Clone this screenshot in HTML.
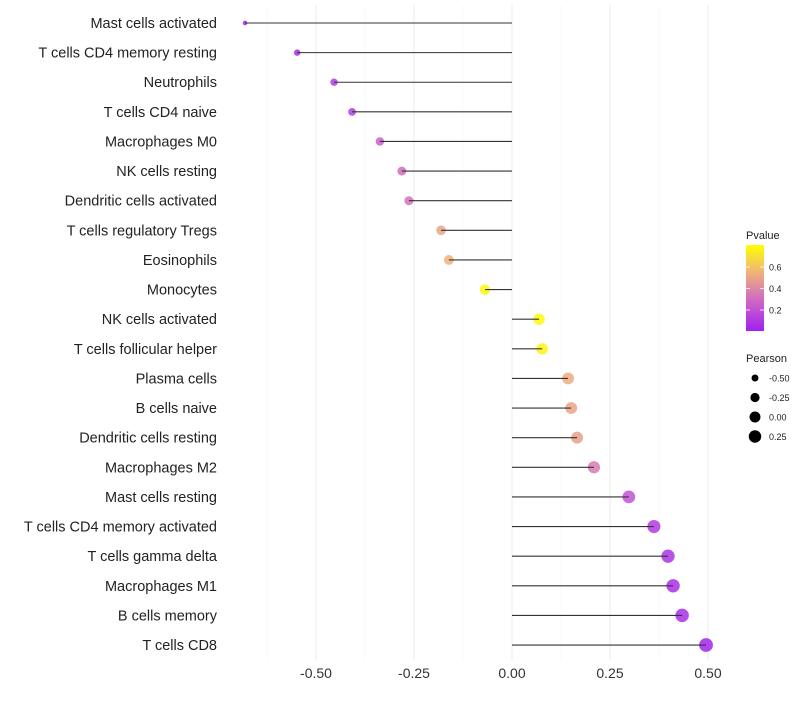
<!DOCTYPE html>
<html><head><meta charset="utf-8"><style>
body{margin:0;background:#fff;font-family:"Liberation Sans",sans-serif}
</style></head><body>
<svg id="chart" width="800" height="700" xmlns="http://www.w3.org/2000/svg"></svg>
<script>
const categories=["Mast cells activated","T cells CD4 memory resting","Neutrophils","T cells CD4 naive","Macrophages M0","NK cells resting","Dendritic cells activated","T cells regulatory  Tregs","Eosinophils","Monocytes","NK cells activated","T cells follicular helper","Plasma cells","B cells naive","Dendritic cells resting","Macrophages M2","Mast cells resting","T cells CD4 memory activated","T cells gamma delta","Macrophages M1","B cells memory","T cells CD8"];
const pearson=[-0.681,-0.548,-0.454,-0.408,-0.337,-0.281,-0.263,-0.181,-0.161,-0.069,0.069,0.077,0.143,0.151,0.166,0.209,0.298,0.362,0.398,0.411,0.434,0.495];
const pvalues=[0.02,0.05,0.1,0.12,0.25,0.3,0.32,0.5,0.55,0.78,0.78,0.76,0.52,0.5,0.48,0.35,0.2,0.1,0.08,0.06,0.05,0.02];
const xTicks=[-0.5,-0.25,0,0.25,0.5];
const xTickLabels=["-0.50","-0.25","0.00","0.25","0.50"];
const pTicks=[0.2,0.4,0.6];
const sizeBreaks=[-0.5,-0.25,0,0.25];
const sizeLabels=["-0.50","-0.25","0.00","0.25"];

const svg=document.getElementById('chart');
const NS="http://www.w3.org/2000/svg";
function mk(t,a,p){const e=document.createElementNS(NS,t);for(const k in a)e.setAttribute(k,a[k]);(p||svg).appendChild(e);return e;}
const x=v=>512+v*392;
const y=i=>23+i*29.62;
const r=v=>Math.sqrt(Math.max(2,30+36*v));
const stops=[[0,[160,32,240]],[0.27,[205,100,200]],[0.55,[240,180,120]],[0.8,[255,255,0]]];
function col(p){p=Math.max(0,Math.min(0.8,p));for(let i=1;i<stops.length;i++){if(p<=stops[i][0]){const a=stops[i-1],b=stops[i];const t=(p-a[0])/(b[0]-a[0]);const c=a[1].map((v,k)=>Math.round(v+(b[1][k]-v)*t));return `rgb(${c.join(',')})`;}}return 'rgb(255,255,0)';}

const g=mk('g',{});


for(let v=-0.625;v<=0.6;v+=0.125){
  const major=Math.abs(v*4-Math.round(v*4))<1e-6;
  mk('line',{x1:x(v),x2:x(v),y1:5,y2:660,stroke:major?'#ebebeb':'#f3f3f3','stroke-width':major?1:0.6},g);
}
xTicks.forEach((v,i)=>{
  const t=mk('text',{x:x(v),y:678,'text-anchor':'middle','font-size':14,fill:'#333'});
  t.textContent=xTickLabels[i];
  
  
});
categories.forEach((c,i)=>{
  const t=mk('text',{x:217,y:y(i)+5,'text-anchor':'end','font-size':14.5,fill:'#222'});
  t.textContent=c;
  
  
  const d=mk('circle',{cx:x(pearson[i]),cy:y(i),r:r(pearson[i]),fill:col(pvalues[i]),'fill-opacity':0.85});
  
  
  const s=mk('line',{x1:x(0),x2:x(pearson[i]),y1:y(i),y2:y(i),stroke:'#333','stroke-width':1.1});
  
  
});
const lg=mk('g',{});


const defs=mk('defs',{});
const grad=mk('linearGradient',{id:'pg',x1:0,y1:1,x2:0,y2:0},defs);
stops.forEach(s=>mk('stop',{offset:s[0]/0.8,'stop-color':`rgb(${s[1].join(',')})`},grad));
mk('text',{x:746,y:239,'font-size':11,fill:'#222'},lg).textContent='Pvalue';
mk('rect',{x:746,y:245,width:18,height:86,fill:'url(#pg)'},lg);
const py=p=>331.5-p*107.5;
pTicks.forEach(p=>{
  mk('line',{x1:746,x2:750,y1:py(p),y2:py(p),stroke:'#fff','stroke-width':0.8},lg);
  mk('line',{x1:760,x2:764,y1:py(p),y2:py(p),stroke:'#fff','stroke-width':0.8},lg);
  mk('text',{x:769,y:py(p)+3.5,'font-size':9,fill:'#222'},lg).textContent=p.toFixed(1);
});
const sg=mk('g',{});


mk('text',{x:746,y:362,'font-size':11,fill:'#222'},sg).textContent='Pearson';
sizeBreaks.forEach((v,i)=>{
  const cy=378+i*19.5;
  mk('circle',{cx:755,cy:cy,r:r(v),fill:'#000'},sg);
  mk('text',{x:769,y:cy+3.5,'font-size':9,fill:'#222'},sg).textContent=sizeLabels[i];
});
</script>
</body></html>
